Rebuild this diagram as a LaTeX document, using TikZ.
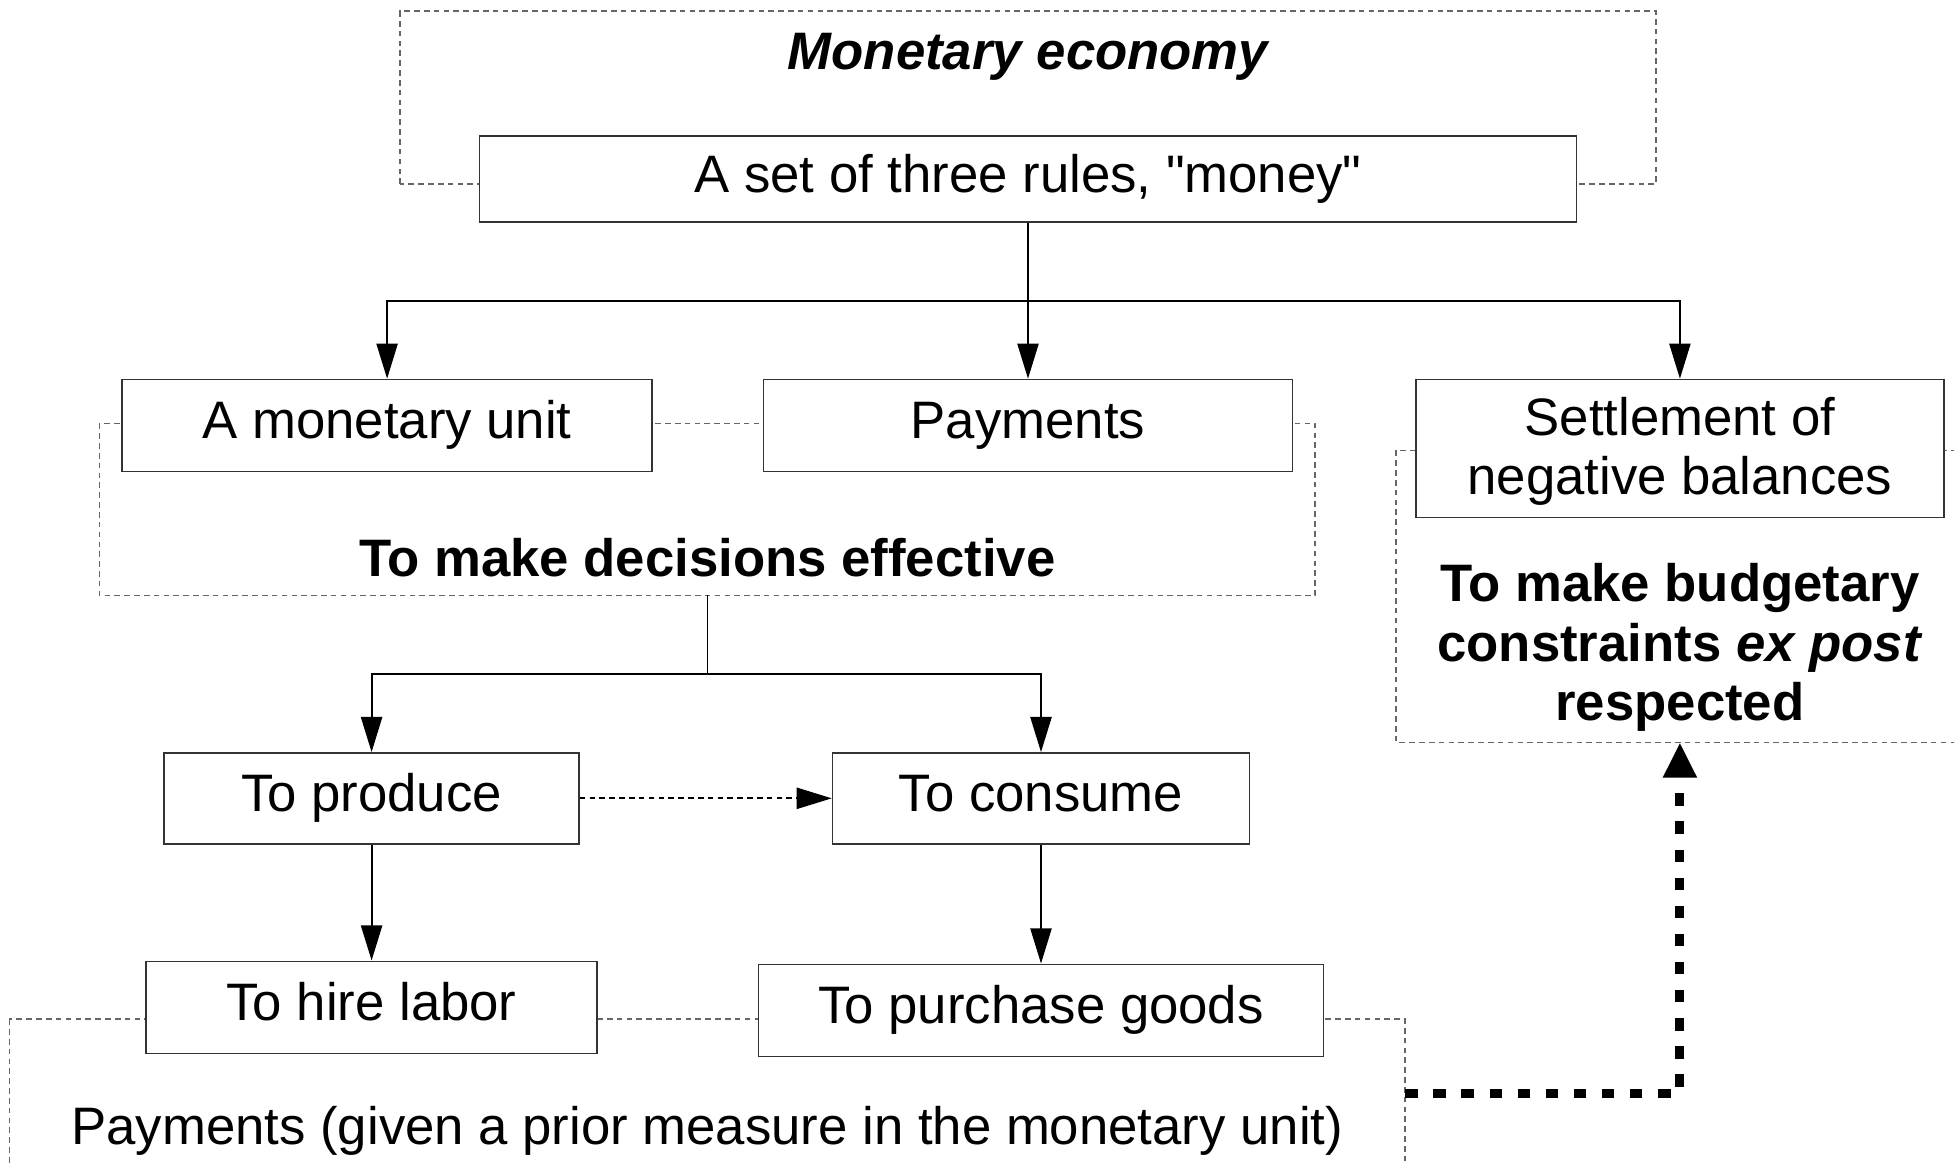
\documentclass[tikz,border=0pt]{standalone}
\usepackage{fontspec}
\setmainfont{Liberation Sans}[Ligatures=TeXOff]
\usetikzlibrary{positioning,calc,backgrounds,arrows.meta}
\tikzset{box/.style={draw=black!80, fill=white, minimum height=0.92cm, align=center, inner sep=2pt},
  block/.style={box, text height=11pt, text depth=3.5pt},
  goal/.style={font=\bfseries\fontsize{15}{17}\selectfont, align=center},
  line/.style={-{Triangle[length=10pt,width=6pt]}, line width=0.6pt},
  dotframe/.style={draw=black!60, line width=0.5pt, dash pattern=on 1.6pt off 1.2pt},
  feedback/.style={-{Triangle[length=10pt,width=9pt]}, line width=2.6pt, dash pattern=on 3.5pt off 4.5pt}}

\begin{document}
\begin{tikzpicture}[font=\fontsize{15}{17}\selectfont]
    \useasboundingbox (0,0) rectangle (19.54,-11.63);

    \node[block,minimum width=10.97cm,minimum height=0.86cm] (rules) at (10.28,-1.79) {A set of three rules, "money"};
    \node[goal,above=0.42cm of rules]                      (title)  {\itshape Monetary economy};
    \node[block,minimum width=5.29cm,below=1.56cm of rules] (pay)    {Payments};
    \node[block,minimum width=5.30cm,left=1.10cm of pay]   (unit)   {A monetary unit};
    \node[box,minimum width=5.28cm,minimum height=1.38cm,right=1.22cm of pay.north east,anchor=north west] (settle) {\rule{0pt}{12.5pt}Settlement of\\negative balances};
    \node[goal] (effect) at ($(unit.west)!0.5!(pay.east)+(0,-1.32)$) {To make decisions effective};
    \node[goal] (budget) at ($(settle)+(0,-1.99)$) {To make budgetary\\constraints \textit{ex post}\\respected};
    \node[block,minimum width=4.15cm,minimum height=0.91cm,below=2.80cm of unit,xshift=-0.155cm] (prod) {To produce};
    \node[block,minimum width=4.17cm,minimum height=0.91cm,right=2.52cm of prod] (cons)  {To consume};
    \node[block,minimum width=4.51cm,below=1.16cm of prod]  (hire)   {To hire labor};
    \node[block,minimum width=5.65cm,below=1.19cm of cons]  (purch)  {To purchase goods};

    % frame corners and bus points
    \coordinate (f2b)   at ($(effect)+(0,-0.38)$);
    \coordinate (f3b)   at ($(budget)+(0,-0.95)$);
    \coordinate (f4l)   at ($(hire.west)+(-1.36,-0.12)$);
    \coordinate (f4r)   at ($(purch.east)+(0.81,-0.09)$);
    \coordinate (bus1)  at ($(rules.south)+(0,-0.78)$);
    \coordinate (bus2)  at ($(f2b)+(0,-0.79)$);
    \coordinate (start) at ($(f4r)+(0,-0.74)$);

    \node (means) at ($(f4l)!0.5!(f4r)+(0,-1.12)$) {Payments (given a prior measure in the monetary unit)};
    \node[anchor=west] (page) at (19.45,-11.22) {3};

    \begin{scope}[on background layer]
        \draw[dotframe] ($(rules.west)+(-0.79,-0.05)$) rectangle ($(rules.north east)+(0.79,1.24)$);
        \draw[dotframe] ($(unit.west)+(-0.22,0.02)$) rectangle ($(pay.east |- f2b)+(0.22,0)$);
        \draw[dotframe] ($(settle.west)+(-0.19,-0.02)$) rectangle ($(f3b)+(3.0,0)$);
        \draw[dotframe] (f4l) rectangle ($(f4r)+(0,-1.9)$);
    \end{scope}

    \draw[line]               (rules)-- (pay);
    \draw[line]               (bus1) -| (unit);
    \draw[line]               (bus1) -| (settle);
    \draw                     (f2b)  -- (bus2);
    \draw[line]               (bus2) -| (prod);
    \draw[line]               (bus2) -| (cons);
    \draw[line,dash pattern=on 1.6pt off 1.2pt] (prod) -- (cons);
    \draw[line]               (prod) -- (hire);
    \draw[line]               (cons) -- (purch);
    \draw[feedback]           (start) -| (f3b);
\end{tikzpicture}
\end{document}
